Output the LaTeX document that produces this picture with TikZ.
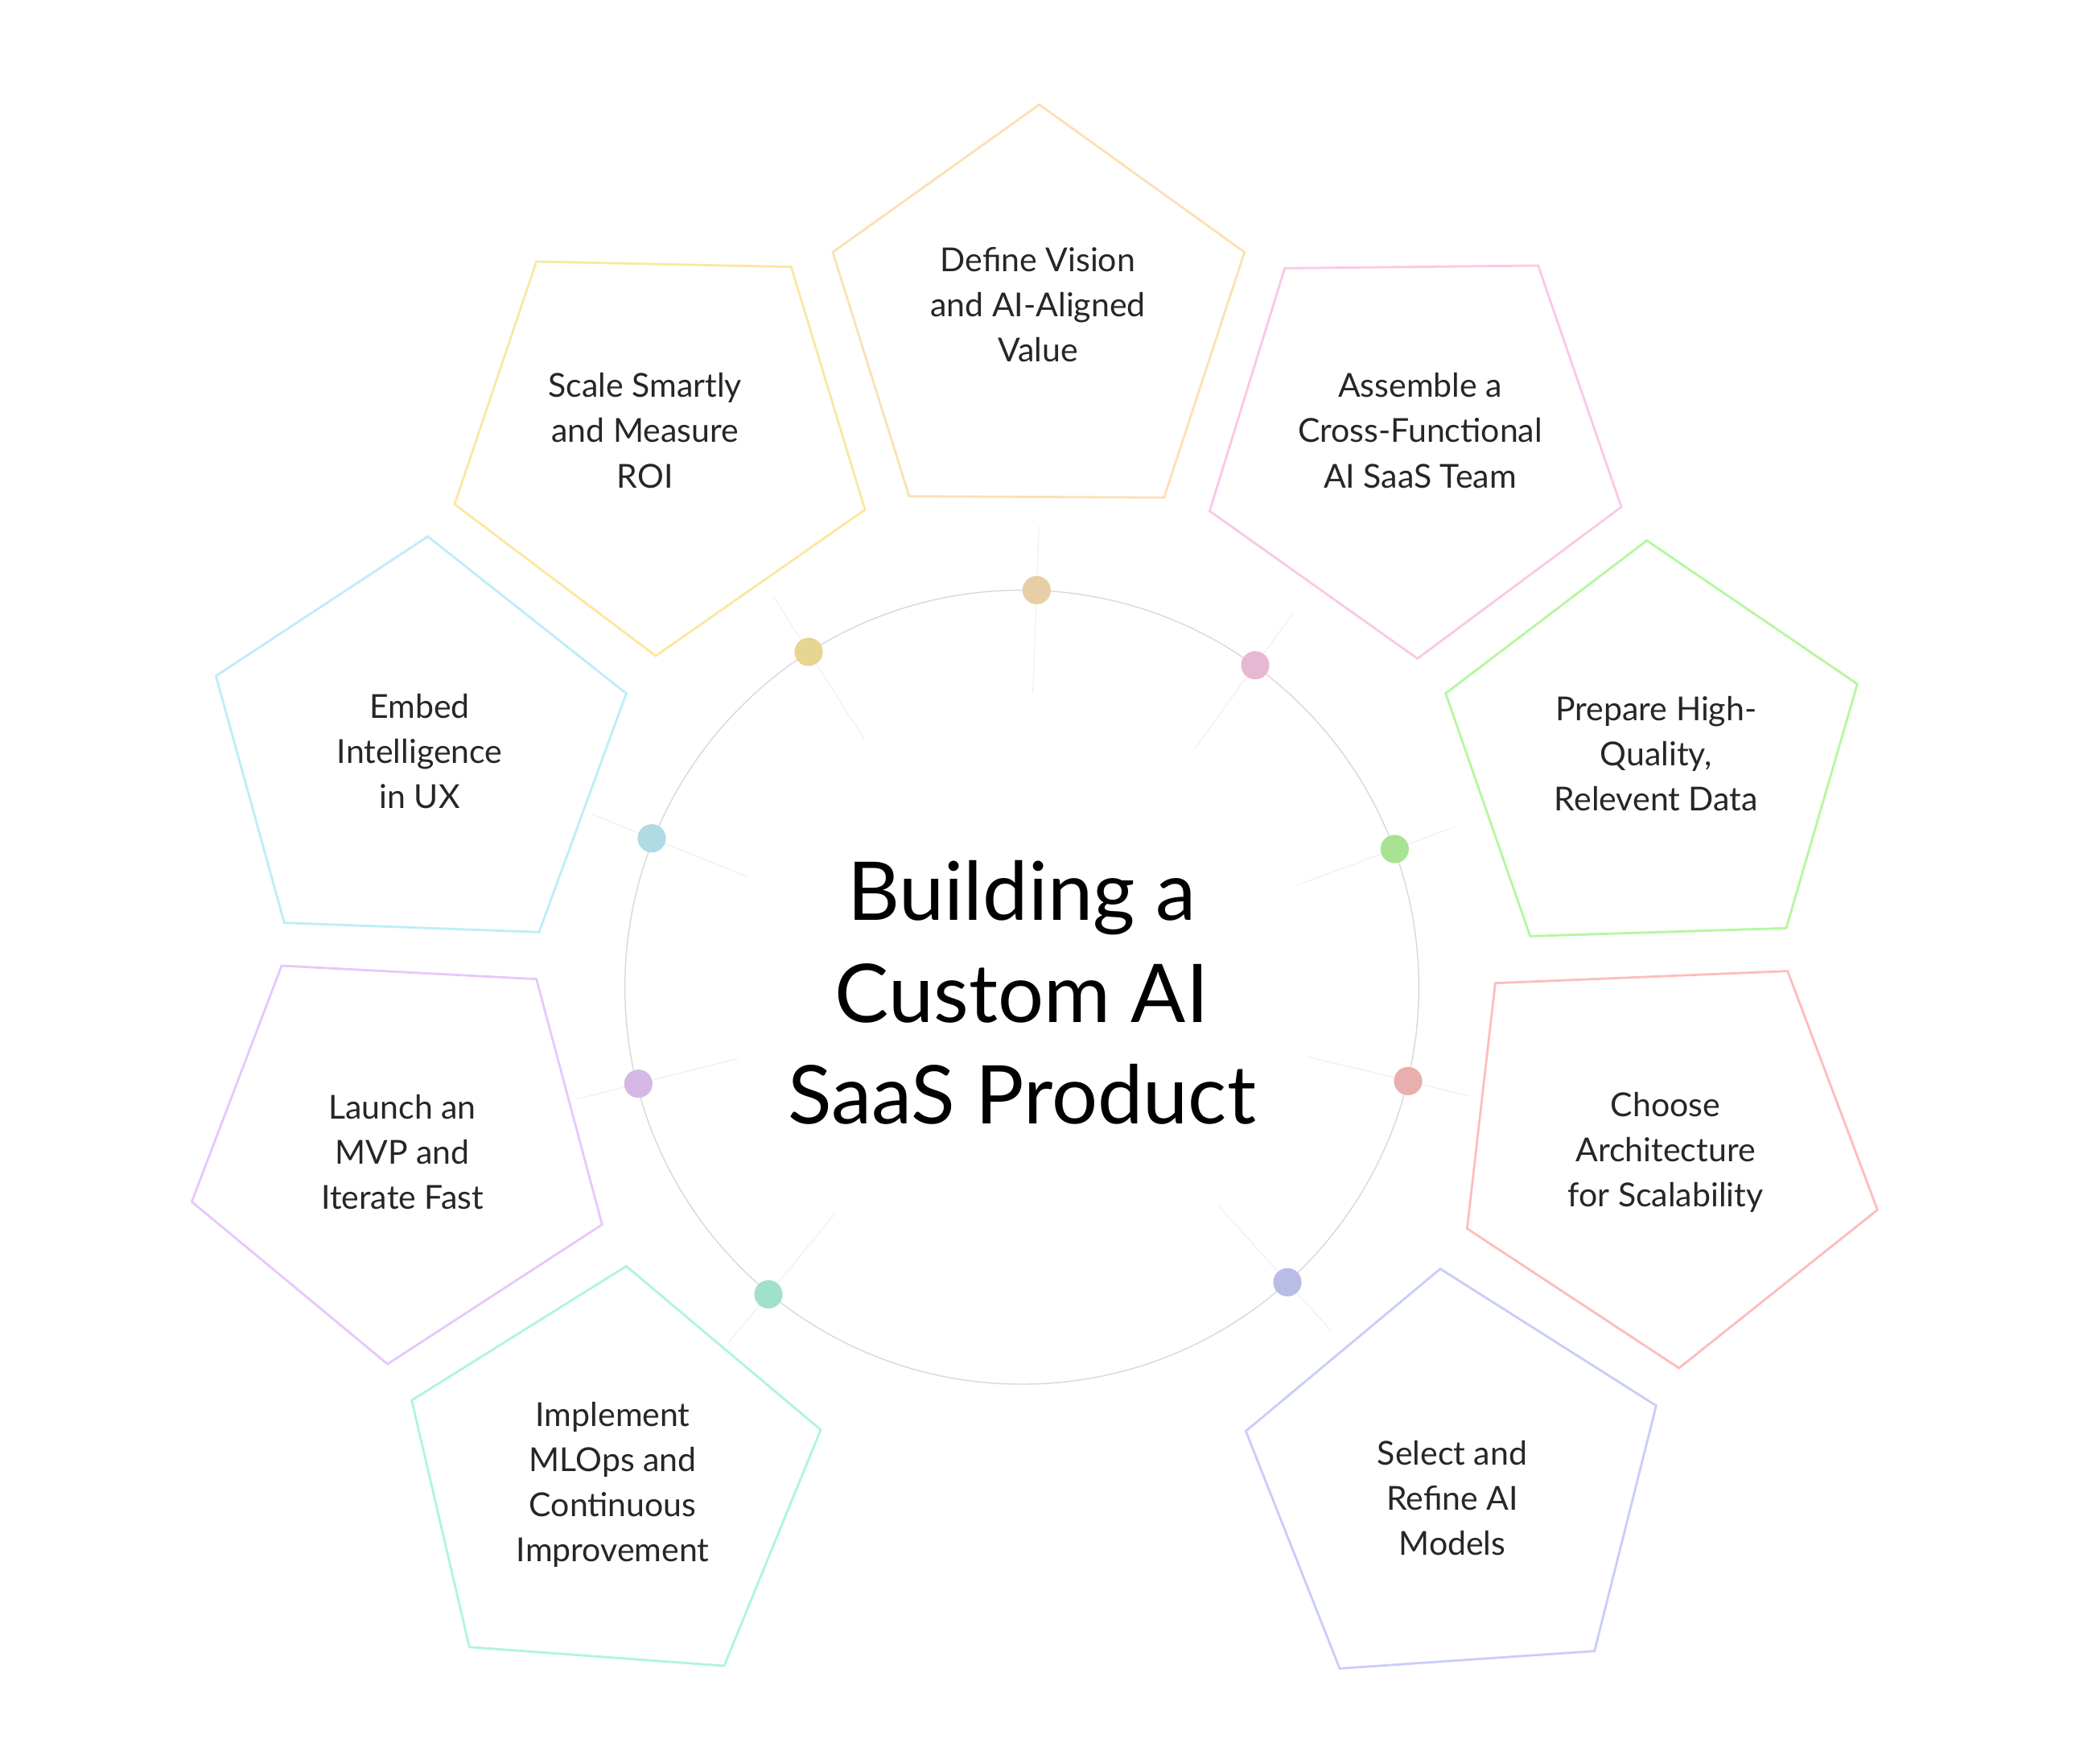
\documentclass[tikz,border=0pt]{standalone}
\usepackage{fontspec}
\usetikzlibrary{calc}
\setmainfont{Lato}
\definecolor{cA}{HTML}{FCE0B5}\definecolor{cB}{HTML}{FBC8E6}\definecolor{cC}{HTML}{B5F7A0}
\definecolor{cD}{HTML}{FDBDBD}\definecolor{cE}{HTML}{C9CDFA}\definecolor{cF}{HTML}{AEF5DD}
\definecolor{cG}{HTML}{E8C8FA}\definecolor{cH}{HTML}{BDEEF8}\definecolor{cI}{HTML}{FBE8A0}
\begin{document}
\begin{tikzpicture}[x=0.05cm,y=-0.05cm,
  lbl/.style={align=center,font=\fontsize{35}{48}\selectfont,text=black!85},
  pent/.style={line width=2.4pt},
  dotc/.style={circle,inner sep=0pt,minimum size=30pt},
  spoke/.style={line width=1pt,black!6}]
\useasboundingbox[fill=white] (0,0) rectangle (1560,1315);
\coordinate (ctr) at (762,736);
\draw[black!15,line width=1.2pt] (ctr) circle (296);
\node[lbl,font=\fontsize{86}{108}\selectfont,text=black] (title) at (762,740) {Building a\\Custom AI\\SaaS Product};
\foreach \i/\x/\y in {1/773/440,2/936/496,3/1040/633,4/1050/806,5/960/956,6/573/965,7/476/808,8/486/625,9/603/486}
  \draw[spoke] ($(ctr)!0.74!(\x,\y)$) -- ($(ctr)!1.16!(\x,\y)$);
\draw[pent,cA] (775,78)--(928,188)--(868,371)--(678,370)--(621,188)--cycle;
\draw[pent,cB] (958,200)--(1147,198)--(1209,378)--(1057,491)--(902,381)--cycle;
\draw[pent,cC] (1228,403)--(1385,510)--(1332,692)--(1141,698)--(1078,517)--cycle;
\draw[pent,cD] (1115,733)--(1333,724)--(1400,902)--(1252,1020)--(1094,916)--cycle;
\draw[pent,cE] (1074,946)--(1235,1048)--(1189,1231)--(999,1244)--(929,1067)--cycle;
\draw[pent,cF] (467,944)--(612,1066)--(540,1242)--(350,1228)--(307,1044)--cycle;
\draw[pent,cG] (210,720)--(400,730)--(449,913)--(289,1017)--(143,896)--cycle;
\draw[pent,cH] (319,400)--(467,517)--(402,695)--(212,688)--(161,504)--cycle;
\draw[pent,cI] (400,195)--(590,199)--(645,380)--(489,489)--(339,376)--cycle;
\node[dotc,fill=cA!92!black] (dot1) at (773,440) {};
\node[dotc,fill=cB!92!black] (dot2) at (936,496) {};
\node[dotc,fill=cC!92!black] (dot3) at (1040,633) {};
\node[dotc,fill=cD!92!black] (dot4) at (1050,806) {};
\node[dotc,fill=cE!92!black] (dot5) at (960,956) {};
\node[dotc,fill=cF!92!black] (dot6) at (573,965) {};
\node[dotc,fill=cG!92!black] (dot7) at (476,808) {};
\node[dotc,fill=cH!92!black] (dot8) at (486,625) {};
\node[dotc,fill=cI!92!black] (dot9) at (603,486) {};
\node[lbl] (t1) at (774,227) {Define Vision\\and AI-Aligned\\Value};
\node[lbl] (t2) at (1059,321) {Assemble a\\Cross-Functional\\AI SaaS Team};
\node[lbl] (t3) at (1235,562) {Prepare High-\\Quality,\\Relevent Data};
\node[lbl] (t4) at (1242,859) {Choose\\Architecture\\for Scalability};
\node[lbl] (t5) at (1083,1117) {Select and\\Refine AI\\Models};
\node[lbl] (t6) at (457,1107) {Implement\\MLOps and\\Continuous\\Improvement};
\node[lbl] (t7) at (300,859) {Launch an\\MVP and\\Iterate Fast};
\node[lbl] (t8) at (313,560) {Embed\\Intelligence\\in UX};
\node[lbl] (t9) at (481,321) {Scale Smartly\\and Measure\\ROI};
\end{tikzpicture}
\end{document}
